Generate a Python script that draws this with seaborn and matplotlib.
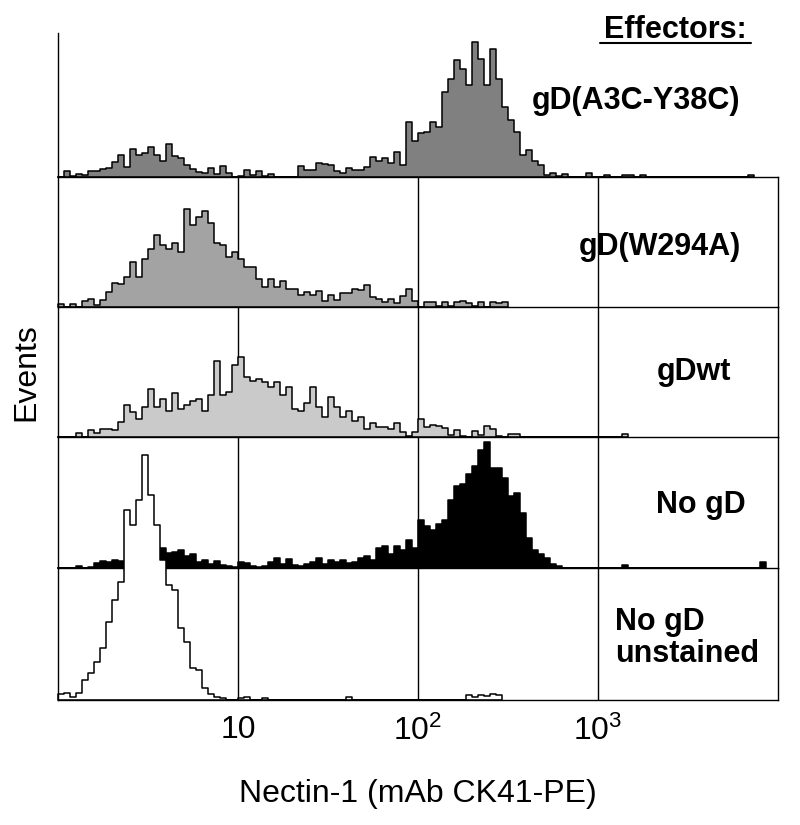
import numpy as np
import pandas as pd
import matplotlib
matplotlib.use("Agg")
import matplotlib.pyplot as plt
from matplotlib.lines import Line2D
import seaborn as sns

# histogram heights per channel (1/30 decade channels starting at 1)
a3c_y38c = [0, 6, 1, 3, 2, 6, 6, 8, 9, 15,
            22, 10, 28, 22, 24, 30, 22, 16, 33, 21,
            19, 12, 8, 5, 4, 9, 3, 11, 4, 0,
            1, 7, 2, 6, 1, 3, 0, 0, 0, 0,
            11, 7, 7, 14, 13, 12, 6, 4, 9, 7,
            7, 10, 20, 16, 19, 14, 25, 12, 55, 36,
            44, 45, 55, 50, 85, 98, 117, 108, 92, 135,
            118, 92, 128, 98, 70, 57, 45, 22, 27, 16,
            12, 2, 4, 1, 3, 0, 0, 0, 4, 0,
            0, 2, 0, 0, 2, 2, 0, 2, 0, 0,
            0, 0, 0, 0, 0, 0, 0, 0, 0, 0,
            0, 0, 0, 0, 0, 2]
w294a = [3, 0, 3, 0, 6, 8, 2, 7, 15, 24,
         23, 30, 45, 30, 48, 58, 72, 62, 58, 64,
         55, 98, 82, 90, 96, 84, 64, 62, 50, 55,
         48, 40, 40, 28, 20, 28, 20, 26, 18, 18,
         12, 15, 12, 16, 6, 12, 7, 14, 14, 18,
         17, 22, 10, 8, 5, 8, 4, 11, 18, 6,
         0, 5, 5, 1, 5, 1, 5, 6, 4, 1,
         5, 0, 5, 4, 5]
gd_wt = [0, 0, 0, 4, 0, 7, 4, 8, 8, 7,
         15, 32, 25, 18, 30, 48, 30, 38, 26, 44,
         28, 32, 36, 38, 26, 42, 76, 42, 45, 72,
         80, 60, 56, 58, 55, 50, 55, 42, 50, 28,
         26, 34, 50, 30, 20, 40, 30, 20, 26, 16,
         20, 8, 14, 10, 10, 8, 14, 5, 1, 5,
         18, 10, 12, 11, 9, 2, 7, 1, 0, 6,
         2, 11, 8, 1, 0, 3, 3, 0, 0, 0,
         0, 0, 0, 0, 0, 0, 0, 0, 0, 0,
         0, 0, 0, 0, 3]
no_gd = [0, 0, 0, 2, 0, 1, 5, 7, 6, 8,
         7, 6, 8, 10, 12, 14, 16, 20, 15, 16,
         18, 12, 14, 6, 8, 4, 7, 3, 2, 1,
         6, 5, 2, 1, 2, 6, 10, 4, 9, 3,
         2, 4, 6, 10, 4, 8, 6, 8, 5, 6,
         10, 12, 8, 20, 22, 14, 22, 18, 28, 20,
         48, 42, 38, 44, 48, 68, 82, 84, 94, 102,
         118, 126, 100, 100, 90, 72, 75, 55, 30, 18,
         14, 10, 4, 2, 0, 0, 0, 0, 0, 0,
         0, 0, 0, 0, 3, 0, 0, 0, 0, 0,
         0, 0, 0, 0, 0, 0, 0, 0, 0, 0,
         0, 0, 0, 0, 0, 0, 0, 6]
unstained = [6, 7, 3, 7, 20, 27, 38, 52, 78, 100,
             118, 190, 175, 200, 245, 205, 175, 140, 115, 110,
             72, 58, 32, 30, 12, 6, 3, 2, 0, 0,
             2, 3, 0, 0, 2, 0, 0, 0, 0, 0,
             0, 0, 0, 0, 0, 0, 0, 0, 3, 0,
             0, 0, 0, 0, 0, 0, 0, 0, 0, 0,
             0, 0, 0, 0, 0, 0, 0, 0, 5, 3,
             5, 4, 6, 5]

series = [a3c_y38c, w294a, gd_wt, no_gd, unstained]
labels = ["gD(A3C-Y38C)", "gD(W294A)", "gDwt", "No gD", "No gD\nunstained"]
fills = ["#808080", "#a3a3a3", "#cacaca", "#000000", "#ffffff"]
tick_vals = [10, 100, 1000]
tick_labels = ["10", "$\\mathregular{10^2}$", "$\\mathregular{10^3}$"]

per_decade = 30

sns.set_style("white")
plt.rcParams["font.family"] = ["Liberation Sans", "DejaVu Sans"]
plt.rcParams["mathtext.fontset"] = "custom"
plt.rcParams["mathtext.rm"] = "Liberation Sans"
plt.rcParams["text.color"] = "black"
plt.rcParams["axes.labelcolor"] = "black"
plt.rcParams["xtick.color"] = "black"

W, H = 800, 825
fig = plt.figure(figsize=(8, 8.25), dpi=100)

left, right = 58, 778
baselines = [177, 307, 437, 568, 700]
tops = [33, 177, 307, 437, 568]

axes = []
for i, h in enumerate(series):
    top, base = tops[i], baselines[i]
    ax = fig.add_axes([left / W, 1 - base / H, (right - left) / W, (base - top) / H])
    ax.set_facecolor("none")
    df = pd.DataFrame({
        "intensity": 10 ** ((np.arange(len(h)) + 0.5) / per_decade),
        "events": np.asarray(h, dtype=float),
    })
    sns.histplot(data=df, x="intensity", weights="events", log_scale=True,
                 binwidth=1 / per_decade, binrange=(0, len(h) / per_decade),
                 element="step", fill=True, color=fills[i], alpha=1,
                 edgecolor="black", linewidth=1.1, clip_on=False, ax=ax)
    ax.set_xlim(1, 1e4)
    ax.set_ylim(0, base - top)
    ax.set_yticks([])
    ax.set_ylabel("")
    ax.set_xlabel("")
    ax.minorticks_off()
    ax.tick_params(axis="x", length=0, labelbottom=False)
    ax.spines["top"].set_visible(False)
    for s in ["left", "bottom", "right"]:
        ax.spines[s].set_color("black")
        ax.spines[s].set_linewidth(1.0)
    if i == 0:
        ax.spines["right"].set_visible(False)
    else:
        for v in tick_vals:
            ax.axvline(v, color="black", lw=1.0, zorder=0.5)
    axes.append(ax)

bottom = axes[-1]
bottom.set_xticks(tick_vals)
bottom.set_xticklabels(tick_labels)
bottom.tick_params(axis="x", labelbottom=True, labelsize=23, pad=11)
bottom.set_xlabel("Nectin-1 (mAb CK41-PE)", fontsize=23, labelpad=23)
axes[2].set_ylabel("Events", fontsize=23, labelpad=12)

# panel labels
fig.text(636 / W, 1 - 109 / H, labels[0], ha="center", va="baseline",
         fontsize=22, fontweight="bold")
fig.text(660 / W, 1 - 255 / H, labels[1], ha="center", va="baseline",
         fontsize=22, fontweight="bold")
fig.text(694 / W, 1 - 380 / H, labels[2], ha="center", va="baseline",
         fontsize=22, fontweight="bold")
fig.text(701 / W, 1 - 513 / H, labels[3], ha="center", va="baseline",
         fontsize=22, fontweight="bold")
fig.text(615 / W, 1 - 662 / H, labels[4], ha="left", va="baseline",
         fontsize=22, fontweight="bold", linespacing=1.1)

fig.text(675 / W, 1 - 38 / H, "Effectors:", ha="center", va="baseline",
         fontsize=22, fontweight="bold")
fig.add_artist(Line2D([600 / W, 751 / W], [1 - 43 / H, 1 - 43 / H],
                      color="black", lw=1.5))

fig.savefig("out.png", dpi=100)
